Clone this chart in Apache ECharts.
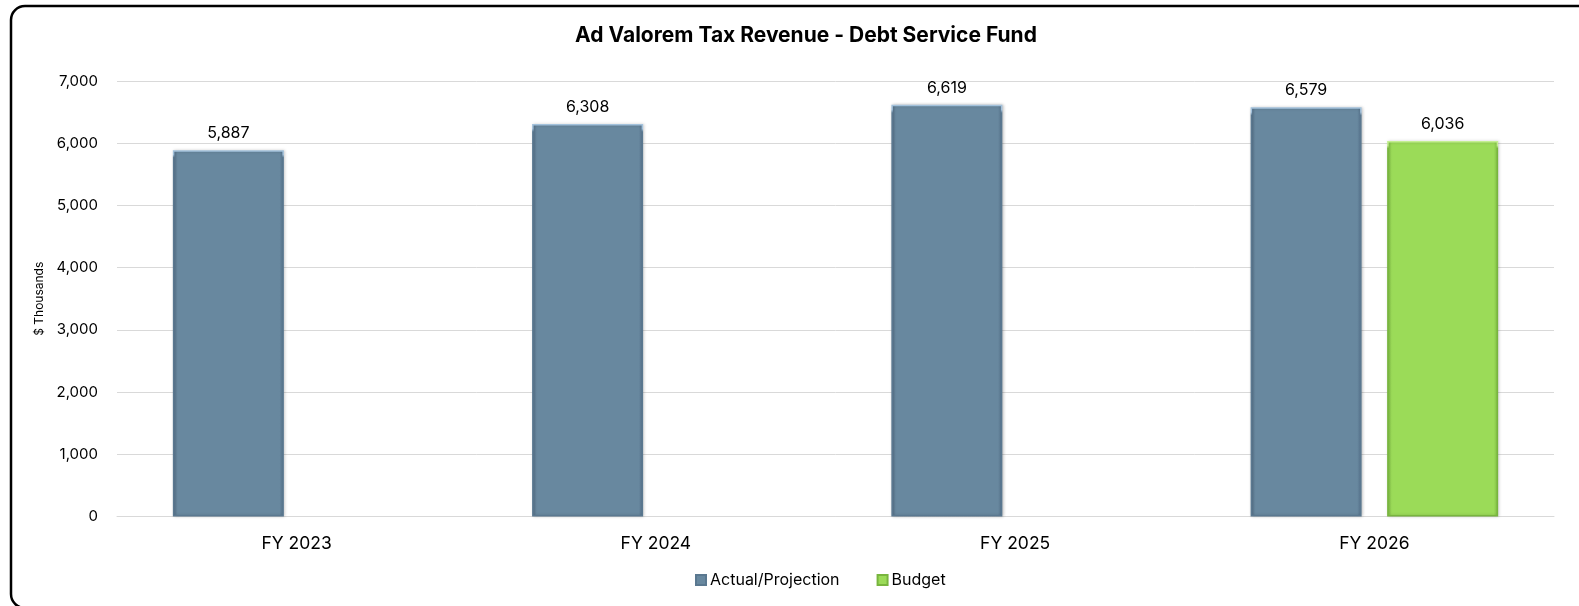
<!DOCTYPE html>
<html>
<head>
<meta charset="utf-8">
<script src="https://cdn.jsdelivr.net/npm/echarts@6/dist/echarts.min.js"></script>
<style>
  html, body { margin: 0; padding: 0; background: #fff; }
  #chart { width: 1579px; height: 606px; }
</style>
</head>
<body>
<div id="chart"></div>
<script>
// Fiscal years on the category axis
const categories = ['FY 2023', 'FY 2024', 'FY 2025', 'FY 2026'];
// Ad valorem tax revenue, $ thousands
const actualProjection = [5887, 6308, 6619, 6579];
const budget = [null, null, null, 6036];
const seriesNames = ['Actual/Projection', 'Budget'];

const FONT = 'Inter, "Liberation Sans", Arial, sans-serif';

// Horizontal shading: darker side edges around a flat face
function bevel(base, edge) {
  return {
    type: 'linear', x: 0, y: 0, x2: 1, y2: 0,
    colorStops: [
      { offset: 0, color: edge },
      { offset: 0.04, color: base },
      { offset: 0.96, color: base },
      { offset: 1, color: edge }
    ]
  };
}
// Outline: light along the top, darker elsewhere
function rim(light, dark) {
  return {
    type: 'linear', x: 0, y: 0, x2: 0, y2: 1,
    colorStops: [
      { offset: 0, color: light },
      { offset: 0.012, color: light },
      { offset: 0.02, color: dark },
      { offset: 1, color: dark }
    ]
  };
}

const chart = echarts.init(document.getElementById('chart'), null, { renderer: 'canvas' });

chart.setOption({
  backgroundColor: '#ffffff',
  animation: false,
  title: {
    text: 'Ad Valorem Tax Revenue - Debt Service Fund',
    left: 801,
    top: 20,
    textAlign: 'center',
    textStyle: { fontFamily: FONT, fontSize: 21, fontWeight: 'bold', color: '#000' }
  },
  graphic: [{
    type: 'rect',
    shape: { x: 11, y: 6, width: 1620, height: 602, r: 14 },
    style: { fill: 'none', stroke: '#000', lineWidth: 2.5 },
    silent: true,
    z: 100
  }],
  legend: {
    bottom: 13,
    left: 690,
    itemWidth: 10,
    itemHeight: 10,
    itemGap: 37,
    icon: 'rect',
    textStyle: { fontFamily: FONT, fontSize: 16, color: '#000', padding: [0, 0, 0, -1] },
    data: seriesNames
  },
  grid: { left: 117, right: 25, top: 81, bottom: 89.5, containLabel: false },
  xAxis: {
    type: 'category',
    data: categories,
    axisLine: { show: true, lineStyle: { color: '#d9d9d9', width: 1 } },
    axisTick: { show: false },
    axisLabel: { fontFamily: FONT, fontSize: 17.5, color: '#000', margin: 18 }
  },
  yAxis: {
    type: 'value',
    min: 0,
    max: 7000,
    interval: 1000,
    name: '$ Thousands',
    nameLocation: 'middle',
    nameRotate: 90,
    nameGap: 72,
    nameTextStyle: { fontFamily: FONT, fontSize: 12, color: '#000' },
    axisLine: { show: false },
    axisTick: { show: false },
    axisLabel: {
      fontFamily: FONT, fontSize: 15, color: '#000', margin: 19,
      formatter: v => v.toLocaleString('en-US')
    },
    splitLine: { lineStyle: { color: '#d9d9d9', width: 1 } }
  },
  series: [
    {
      name: seriesNames[0],
      type: 'bar',
      data: actualProjection,
      barWidth: 111,
      barGap: '23%',
      color: '#68889f',
      itemStyle: {
        color: bevel('#68889f', '#54708a'),
        borderColor: rim('#a3c2dc', '#5a7890'),
        borderWidth: 1.5,
        shadowColor: 'rgba(0,0,0,0.2)',
        shadowBlur: 3,
        shadowOffsetX: 1
      },
      label: {
        show: true, position: 'top', distance: 9,
        fontFamily: FONT, fontSize: 16, color: '#000',
        formatter: p => p.value.toLocaleString('en-US')
      }
    },
    {
      name: seriesNames[1],
      type: 'bar',
      data: budget,
      barWidth: 111,
      barGap: '23%',
      color: '#9bdb58',
      itemStyle: {
        color: bevel('#9bdb58', '#80c044'),
        borderColor: rim('#c4ef92', '#78b53e'),
        borderWidth: 1.5,
        shadowColor: 'rgba(0,0,0,0.2)',
        shadowBlur: 3,
        shadowOffsetX: 1
      },
      label: {
        show: true, position: 'top', distance: 9,
        fontFamily: FONT, fontSize: 16, color: '#000',
        formatter: p => p.value == null ? '' : p.value.toLocaleString('en-US')
      }
    }
  ]
});
</script>
</body>
</html>
